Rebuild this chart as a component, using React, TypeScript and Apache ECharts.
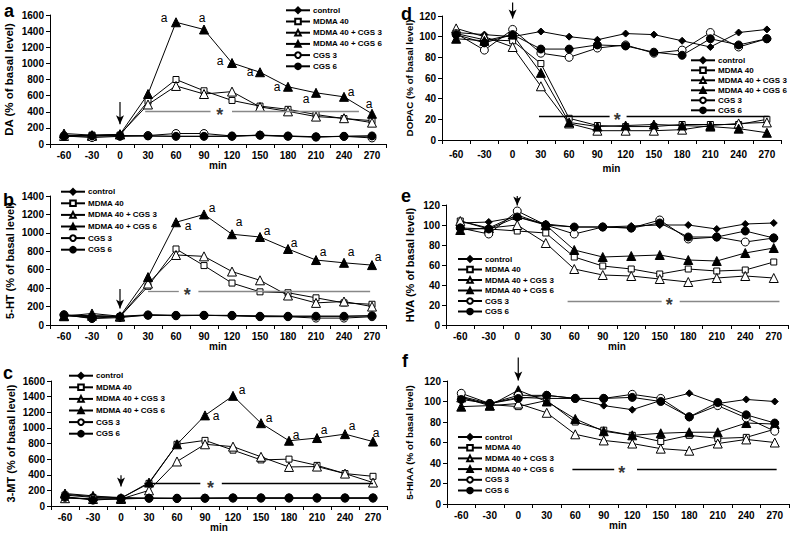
import React, { useEffect, useRef } from 'react';
import * as echarts from 'echarts';

const CATS = ['-60', '-30', '0', '30', '60', '90', '120', '150', '180', '210', '240', '270'];
const NAMES = ['control', 'MDMA 40', 'MDMA 40 + CGS 3', 'MDMA 40 + CGS 6', 'CGS 3', 'CGS 6'];

// a: DA
const daControl = [110, 100, 105, 100, 95, 95, 100, 105, 95, 90, 95, 100];
const daMdma40 = [100, 110, 110, 530, 800, 660, 540, 470, 430, 365, 315, 290];
const daMdma40Cgs3 = [100, 100, 120, 490, 720, 620, 650, 460, 405, 340, 320, 265];
const daMdma40Cgs6 = [130, 110, 120, 620, 1510, 1420, 1005, 890, 710, 635, 585, 375];
const daCgs3 = [100, 80, 95, 105, 130, 130, 100, 110, 95, 85, 95, 75];
const daCgs6 = [95, 100, 100, 100, 95, 95, 95, 110, 100, 90, 95, 100];

// b: 5-HT
const htControl = [110, 100, 95, 110, 105, 105, 100, 100, 95, 95, 95, 100];
const htMdma40 = [100, 90, 90, 420, 825, 645, 455, 360, 350, 295, 240, 225];
const htMdma40Cgs3 = [100, 100, 90, 450, 760, 745, 580, 485, 320, 240, 255, 200];
const htMdma40Cgs6 = [95, 125, 95, 520, 1115, 1200, 985, 955, 825, 705, 675, 650];
const htCgs3 = [110, 70, 80, 110, 100, 105, 100, 90, 90, 75, 75, 90];
const htCgs6 = [110, 75, 90, 105, 105, 105, 105, 95, 95, 95, 95, 100];

// c: 3-MT
const mtControl = [150, 120, 110, 100, 100, 100, 100, 100, 100, 100, 100, 100];
const mtMdma40 = [140, 110, 100, 290, 790, 840, 715, 590, 600, 520, 415, 380];
const mtMdma40Cgs3 = [100, 90, 90, 200, 570, 790, 760, 630, 500, 505, 415, 300];
const mtMdma40Cgs6 = [160, 130, 100, 300, 790, 1160, 1410, 1060, 835, 870, 920, 825];
const mtCgs3 = [110, 90, 90, 100, 95, 100, 100, 100, 100, 100, 100, 100];
const mtCgs6 = [120, 75, 95, 100, 100, 100, 105, 105, 105, 105, 105, 105];

// d: DOPAC
const dopacControl = [104, 102, 100, 105, 100, 97, 103, 102, 96, 90, 104, 107];
const dopacMdma40 = [103, 97, 96, 74, 21, 14, 13, 13, 15, 15, 15, 20];
const dopacMdma40Cgs3 = [108, 100, 90, 52, 16, 9, 9, 9, 10, 14, 16, 17];
const dopacMdma40Cgs6 = [98, 96, 102, 65, 17, 13, 14, 15, 14, 13, 11, 7];
const dopacCgs3 = [103, 87, 107, 84, 80, 89, 92, 84, 87, 104, 90, 98];
const dopacCgs6 = [102, 94, 102, 88, 88, 92, 91, 85, 82, 98, 92, 98];

// e: HVA
const hvaControl = [102, 103, 108, 101, 98, 98, 99, 100, 100, 96, 101, 102];
const hvaMdma40 = [104, 96, 94, 92, 68, 59, 56, 51, 56, 54, 55, 63];
const hvaMdma40Cgs3 = [104, 97, 100, 82, 56, 50, 49, 46, 43, 47, 49, 47];
const hvaMdma40Cgs6 = [95, 97, 110, 100, 75, 68, 69, 70, 65, 64, 72, 77];
const hvaCgs3 = [97, 91, 114, 100, 91, 98, 97, 105, 86, 88, 83, 87];
const hvaCgs6 = [97, 96, 108, 100, 98, 98, 97, 102, 88, 88, 94, 87];

// f: 5-HIAA
const hiaaControl = [105, 98, 104, 103, 103, 96, 92, 101, 108, 98, 102, 100];
const hiaaMdma40 = [104, 97, 95, 101, 80, 72, 67, 61, 67, 64, 65, 73];
const hiaaMdma40Cgs3 = [104, 96, 98, 89, 68, 62, 59, 54, 52, 59, 63, 60];
const hiaaMdma40Cgs6 = [95, 96, 111, 100, 83, 71, 67, 69, 70, 70, 79, 78];
const hiaaCgs3 = [108, 98, 106, 106, 103, 103, 107, 103, 85, 96, 84, 71];
const hiaaCgs6 = [102, 98, 103, 106, 103, 103, 104, 100, 85, 99, 87, 79];

// significance bars (minutes, level), star positions and injection arrows (top, head) at t = 0
const daStar = { y: 410, segs: [[27, 97], [120, 256]], x: 107, arrow: [520, 245] };
const htStar = { y: 364, segs: [[30, 63], [84, 268]], x: 72, arrow: [390, 180] };
const mtStar = { y: 287, segs: [[25, 85], [108, 270]], x: 96, arrow: [395, 250] };
const dopacStar = { y: 23, segs: [[28, 103], [121, 272]], x: 111, arrow: [133, 117.5] };
const hvaStar = { y: 24, segs: [[53, 152], [171, 276]], x: 160, arrow: [129, 119.5] };
const hiaaStar = { y: 34, segs: [[57, 101], [125, 272]], x: 109, arrow: [143, 120.5] };

const FONT = 'Arial, "Liberation Sans", sans-serif';

const STYLES = [
  { symbol: 'diamond', size: 7, fill: '#000' },
  { symbol: 'rect', size: 6, fill: '#fff' },
  { symbol: 'triangle', size: 9, fill: '#fff' },
  { symbol: 'triangle', size: 9, fill: '#000' },
  { symbol: 'circle', size: 8, fill: '#fff' },
  { symbol: 'circle', size: 8, fill: '#000' },
];

const PANELS = [
  {
    letter: 'a', letterPos: [4, 11], yName: 'DA (% of basal level)', yNameSize: 11.5, max: 1600, interval: 200,
    data: [daControl, daMdma40, daMdma40Cgs3, daMdma40Cgs6, daCgs3, daCgs6], star: daStar, starColor: '#888',
    grid: { left: 50, top: 15, width: 336, height: 129 }, labelMargin: 6, nameGap: 16, yNameGap: 35,
    legend: { left: 285, top: 6.3, gap: 3.2 },
    aOffsets: [null, null, null, null, [-12, -4], [-2, -12], [-12, -2], [-10, 0], [-11, 0], [-10, 6], [7, -5], [-3, -10]],
  },
  {
    letter: 'b', letterPos: [3, 200], yName: '5-HT (% of basal level)', yNameSize: 11, max: 1400, interval: 200,
    data: [htControl, htMdma40, htMdma40Cgs3, htMdma40Cgs6, htCgs3, htCgs6], star: htStar, starColor: '#888',
    grid: { left: 50, top: 196, width: 336, height: 129 }, labelMargin: 6, nameGap: 16, yNameGap: 35,
    legend: { left: 60, top: 187.7, gap: 3.6 },
    aOffsets: [null, null, null, null, [12, 4], [8, -6], [7, -12], [7, -6], [6, -6], [7, -8], [7, -11], [6, -8]],
  },
  {
    letter: 'c', letterPos: [3, 373], yName: '3-MT (% of basal level)', yNameSize: 11, max: 1600, interval: 200,
    data: [mtControl, mtMdma40, mtMdma40Cgs3, mtMdma40Cgs6, mtCgs3, mtCgs6], star: mtStar, starColor: '#000',
    grid: { left: 51, top: 381, width: 336, height: 125 }, labelMargin: 6, nameGap: 16, yNameGap: 35,
    legend: { left: 68, top: 371.7, gap: 3.6 },
    aOffsets: [null, null, null, null, null, [11, 1], [9, -6], [8, -5], [7, -6], [7, -8], [7, -8], [3, -9]],
  },
  {
    letter: 'd', letterPos: [401, 14], yName: 'DOPAC (% of basal level)', yNameSize: 9.8, max: 120, interval: 20,
    data: [dopacControl, dopacMdma40, dopacMdma40Cgs3, dopacMdma40Cgs6, dopacCgs3, dopacCgs6], star: dopacStar, starColor: '#000',
    grid: { left: 442, top: 16, width: 339, height: 124 }, labelMargin: 9, nameGap: 23, yNameGap: 28,
    legend: { left: 690, top: 56.3, gap: 2 },
    aOffsets: [],
  },
  {
    letter: 'e', letterPos: [401, 196], yName: 'HVA (% of basal level)', yNameSize: 11, max: 120, interval: 20,
    data: [hvaControl, hvaMdma40, hvaMdma40Cgs3, hvaMdma40Cgs6, hvaCgs3, hvaCgs6], star: hvaStar, starColor: '#888',
    grid: { left: 446, top: 205, width: 342, height: 120 }, labelMargin: 6, nameGap: 16, yNameGap: 31,
    legend: { left: 457, top: 255, gap: 2.5 },
    aOffsets: [],
  },
  {
    letter: 'f', letterPos: [402, 361], yName: '5-HIAA (% of basal level)', yNameSize: 9.8, max: 120, interval: 20,
    data: [hiaaControl, hiaaMdma40, hiaaMdma40Cgs3, hiaaMdma40Cgs6, hiaaCgs3, hiaaCgs6], star: hiaaStar, starColor: '#000',
    grid: { left: 447, top: 381, width: 342, height: 123 }, labelMargin: 6, nameGap: 16, yNameGap: 33,
    legend: { left: 457, top: 433, gap: 2.7 },
    aOffsets: [],
  },
];

function buildOption() {
  const grid: any[] = [];
  const xAxis: any[] = [];
  const yAxis: any[] = [];
  const series: any[] = [];
  const legend: any[] = [];
  const graphic: any[] = [];

  PANELS.forEach((p, i) => {
    grid.push({ ...p.grid, containLabel: false, outerBoundsMode: 'none' });
    xAxis.push({
      type: 'category', gridIndex: i, data: CATS, boundaryGap: true,
      axisLine: { show: true, onZero: false, lineStyle: { color: '#000', width: 1 } },
      axisTick: { show: true, length: 4, alignWithLabel: false, lineStyle: { color: '#000' } },
      axisLabel: { interval: 0, margin: p.labelMargin, fontSize: 10, fontWeight: 'bold', color: '#000', fontFamily: FONT },
      splitLine: { show: false },
      name: 'min', nameLocation: 'middle', nameGap: p.nameGap,
      nameTextStyle: { fontSize: 10, fontWeight: 'bold', color: '#000', fontFamily: FONT },
    });
    yAxis.push({
      type: 'value', gridIndex: i, min: 0, max: p.max, interval: p.interval,
      axisLine: { show: true, onZero: false, lineStyle: { color: '#000', width: 1 } },
      axisTick: { show: true, length: 4, lineStyle: { color: '#000' } },
      axisLabel: { margin: 6, fontSize: 10, fontWeight: 'bold', color: '#000', fontFamily: FONT, formatter: (v: number) => String(v) },
      splitLine: { show: false },
      name: p.yName, nameLocation: 'middle', nameRotate: 90, nameGap: p.yNameGap,
      nameTextStyle: { fontSize: p.yNameSize, fontWeight: 'bold', color: '#000', fontFamily: FONT },
    });
  });
  // hidden numeric axes (minutes) for annotations
  PANELS.forEach((p, i) => {
    xAxis.push({ type: 'value', gridIndex: i, min: -75, max: 285, show: false, axisLine: { onZero: false } });
  });

  PANELS.forEach((p, i) => {
    const s = p.star;
    const ax = PANELS.length + i;
    series.push({
      type: 'scatter', xAxisIndex: ax, yAxisIndex: i, z: 1, silent: true,
      symbolSize: 1, itemStyle: { color: 'transparent' },
      data: [[s.x, s.y]],
      label: { show: true, formatter: '*', position: 'inside', offset: [0, 4], fontSize: 18, fontWeight: 'bold', color: '#000', fontFamily: FONT },
      markLine: {
        silent: true, symbol: ['none', 'none'], label: { show: false },
        lineStyle: { color: p.starColor, width: 1.3, type: 'solid' },
        emphasis: { disabled: true },
        data: s.segs.map((seg) => [{ coord: [seg[0], s.y] }, { coord: [seg[1], s.y] }]),
      },
    });
    series.push({
      type: 'line', xAxisIndex: ax, yAxisIndex: i, z: 1, silent: true, clip: false,
      lineStyle: { color: '#000', width: 1.2 }, itemStyle: { color: '#000' },
      showSymbol: true, emphasis: { disabled: true },
      data: [
        { value: [0, s.arrow[0]], symbol: 'none' },
        { value: [0, s.arrow[1]], symbol: 'arrow', symbolSize: [6, 9], symbolRotate: 180 },
      ],
    });
    p.data.forEach((vals, j) => {
      const st = STYLES[j];
      const data = vals.map((v, k) => {
        const off = j === 3 ? p.aOffsets[k] : null;
        if (!off) return v;
        return {
          value: v,
          label: { show: true, formatter: 'a', position: 'inside', offset: off, fontSize: 12, fontWeight: 'normal', color: '#000', fontFamily: FONT },
        };
      });
      series.push({
        type: 'line', name: NAMES[j], xAxisIndex: i, yAxisIndex: i, data,
        symbol: st.symbol, symbolSize: st.size, showSymbol: true, showAllSymbol: true,
        lineStyle: { color: '#000', width: 1 },
        itemStyle: { color: st.fill, borderColor: '#000', borderWidth: 1 },
        emphasis: { disabled: true }, z: 2 + j,
      });
    });
    legend.push({
      data: NAMES, orient: 'vertical', left: p.legend.left, top: p.legend.top,
      itemWidth: 24, itemHeight: 7, itemGap: p.legend.gap, padding: 0, selectedMode: false,
      textStyle: { fontSize: 8, fontWeight: 'bold', color: '#000', fontFamily: FONT, padding: [0, 0, 0, -2] },
    });
    graphic.push({
      type: 'text', x: p.letterPos[0], y: p.letterPos[1],
      style: { text: p.letter, font: `bold 18px ${FONT}`, fill: '#000', textVerticalAlign: 'middle' },
    });
  });

  return {
    animation: false,
    backgroundColor: '#fff',
    textStyle: { fontFamily: FONT },
    grid, xAxis, yAxis, series, legend, graphic,
  };
}

export default function App() {
  const ref = useRef<HTMLDivElement>(null);
  useEffect(() => {
    if (!ref.current) return;
    const chart = echarts.init(ref.current, undefined, { renderer: 'svg' });
    chart.setOption(buildOption() as any);
    return () => chart.dispose();
  }, []);
  return <div ref={ref} style={{ position: 'absolute', left: 0, top: 0, width: 793, height: 543 }} />;
}
